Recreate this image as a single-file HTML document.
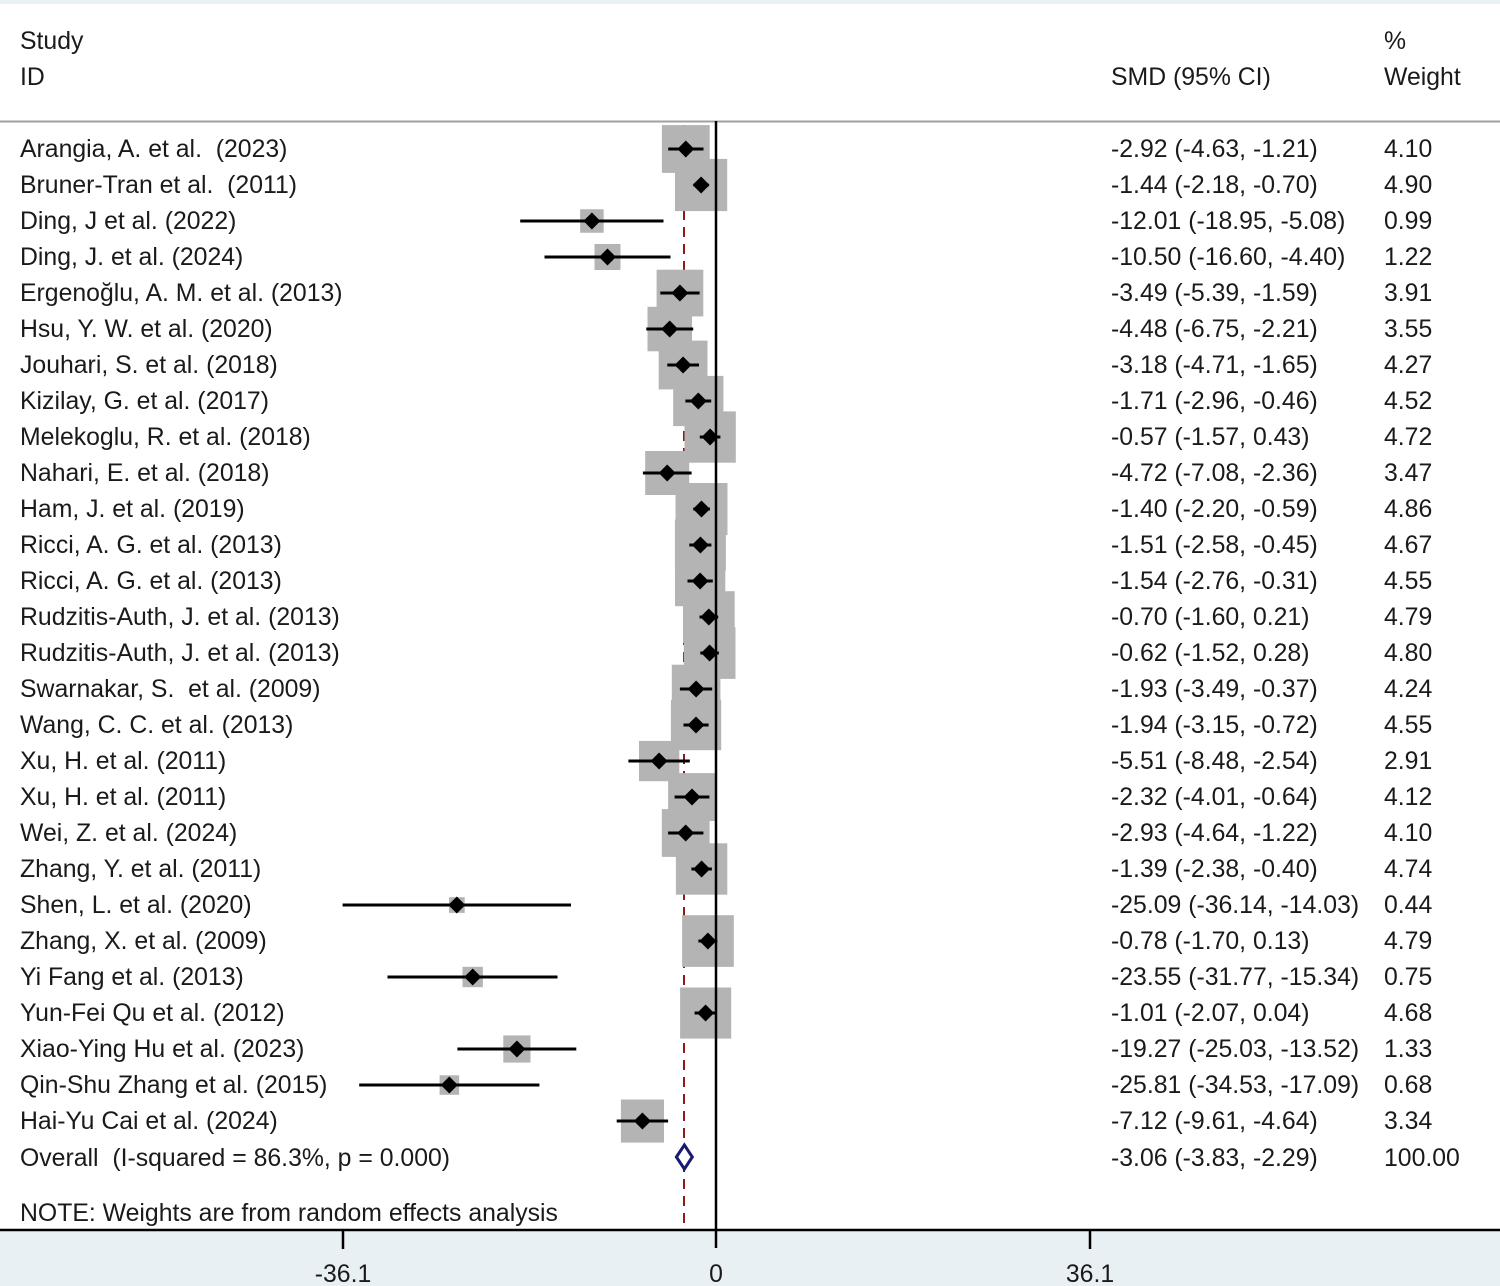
<!DOCTYPE html>
<html><head><meta charset="utf-8"><style>
html,body{margin:0;padding:0;background:#fff}
svg{display:block}
text{font-family:"Liberation Sans",Arial,sans-serif;font-size:24.8px;fill:#1a1a1a;white-space:pre}
</style></head><body>
<svg width="1500" height="1286" viewBox="0 0 1500 1286" xmlns="http://www.w3.org/2000/svg" xml:space="preserve">
<rect x="0" y="0" width="1500" height="1286" fill="#fff"/>
<rect x="0" y="0" width="1500" height="4" fill="#e8f0f3"/>
<rect x="0" y="1230" width="1500" height="56" fill="#e8f0f3"/>
<line x1="0" y1="121.5" x2="1500" y2="121.5" stroke="#a0a0a0" stroke-width="2"/>
<text x="20" y="49">Study</text><text x="20" y="85">ID</text>
<text x="1111" y="85">SMD (95% CI)</text>
<text x="1384" y="49">%</text><text x="1384" y="85">Weight</text>
<line x1="684" y1="125" x2="684" y2="1230" stroke="#8b1a1a" stroke-width="2" stroke-dasharray="10,7"/>
<g fill="#b4b4b4">
<g transform="translate(685.8,149)"><rect x="-23.9" y="-23.9" width="47.8" height="47.8"/></g>
<g transform="translate(701.1,185)"><rect x="-26.1" y="-26.1" width="52.2" height="52.2"/></g>
<g transform="translate(591.9,221)"><rect x="-11.75" y="-11.75" width="23.5" height="23.5"/></g>
<g transform="translate(607.5,257)"><rect x="-13" y="-13" width="26" height="26"/></g>
<g transform="translate(679.9,293)"><rect x="-23.3" y="-23.3" width="46.7" height="46.7"/></g>
<g transform="translate(669.7,329)"><rect x="-22.2" y="-22.2" width="44.5" height="44.5"/></g>
<g transform="translate(683.1,365)"><rect x="-24.4" y="-24.4" width="48.8" height="48.8"/></g>
<g transform="translate(698.3,401)"><rect x="-25.1" y="-25.1" width="50.2" height="50.2"/></g>
<g transform="translate(710.1,437)"><rect x="-25.6" y="-25.6" width="51.3" height="51.3"/></g>
<g transform="translate(667.2,473)"><rect x="-22" y="-22" width="44" height="44"/></g>
<g transform="translate(701.5,509)"><rect x="-26" y="-26" width="52" height="52"/></g>
<g transform="translate(700.4,545)"><rect x="-25.5" y="-25.5" width="51" height="51"/></g>
<g transform="translate(700.1,581)"><rect x="-25.1" y="-25.1" width="50.3" height="50.3"/></g>
<g transform="translate(708.8,617)"><rect x="-25.8" y="-25.8" width="51.7" height="51.7"/></g>
<g transform="translate(709.6,653)"><rect x="-25.8" y="-25.8" width="51.7" height="51.7"/></g>
<g transform="translate(696.1,689)"><rect x="-24.3" y="-24.3" width="48.6" height="48.6"/></g>
<g transform="translate(696.0,725)"><rect x="-25.1" y="-25.1" width="50.3" height="50.3"/></g>
<g transform="translate(659.1,761)"><rect x="-20.1" y="-20.1" width="40.3" height="40.3"/></g>
<g transform="translate(692.0,797)"><rect x="-23.9" y="-23.9" width="47.9" height="47.9"/></g>
<g transform="translate(685.7,833)"><rect x="-23.9" y="-23.9" width="47.8" height="47.8"/></g>
<g transform="translate(701.6,869)"><rect x="-25.7" y="-25.7" width="51.4" height="51.4"/></g>
<g transform="translate(456.8,905)"><rect x="-7.8" y="-7.8" width="15.7" height="15.7"/></g>
<g transform="translate(707.9,941)"><rect x="-25.8" y="-25.8" width="51.7" height="51.7"/></g>
<g transform="translate(472.7,977)"><rect x="-10.2" y="-10.2" width="20.4" height="20.4"/></g>
<g transform="translate(705.6,1013)"><rect x="-25.5" y="-25.5" width="51.1" height="51.1"/></g>
<g transform="translate(516.9,1049)"><rect x="-13.6" y="-13.6" width="27.2" height="27.2"/></g>
<g transform="translate(449.3,1085)"><rect x="-9.7" y="-9.7" width="19.5" height="19.5"/></g>
<g transform="translate(642.4,1121)"><rect x="-21.5" y="-21.5" width="43.1" height="43.1"/></g>
</g>
<line x1="716" y1="121" x2="716" y2="1248" stroke="#000" stroke-width="2.5"/>
<g stroke="#000" stroke-width="3">
<line x1="668.2" y1="149" x2="703.5" y2="149"/>
<line x1="693.5" y1="185" x2="708.8" y2="185"/>
<line x1="520.2" y1="221" x2="663.5" y2="221"/>
<line x1="544.5" y1="257" x2="670.5" y2="257"/>
<line x1="660.3" y1="293" x2="699.6" y2="293"/>
<line x1="646.3" y1="329" x2="693.2" y2="329"/>
<line x1="667.3" y1="365" x2="699.0" y2="365"/>
<line x1="685.4" y1="401" x2="711.2" y2="401"/>
<line x1="699.8" y1="437" x2="720.4" y2="437"/>
<line x1="642.9" y1="473" x2="691.6" y2="473"/>
<line x1="693.3" y1="509" x2="709.9" y2="509"/>
<line x1="689.3" y1="545" x2="711.4" y2="545"/>
<line x1="687.5" y1="581" x2="712.8" y2="581"/>
<line x1="699.5" y1="617" x2="718.2" y2="617"/>
<line x1="700.3" y1="653" x2="718.9" y2="653"/>
<line x1="679.9" y1="689" x2="712.2" y2="689"/>
<line x1="683.5" y1="725" x2="708.6" y2="725"/>
<line x1="628.4" y1="761" x2="689.8" y2="761"/>
<line x1="674.6" y1="797" x2="709.4" y2="797"/>
<line x1="668.1" y1="833" x2="703.4" y2="833"/>
<line x1="691.4" y1="869" x2="711.9" y2="869"/>
<line x1="342.6" y1="905" x2="571.0" y2="905"/>
<line x1="698.4" y1="941" x2="717.3" y2="941"/>
<line x1="387.5" y1="977" x2="557.5" y2="977"/>
<line x1="694.6" y1="1013" x2="716.4" y2="1013"/>
<line x1="457.4" y1="1049" x2="576.3" y2="1049"/>
<line x1="359.2" y1="1085" x2="539.4" y2="1085"/>
<line x1="616.7" y1="1121" x2="668.1" y2="1121"/>
</g>
<defs><path id="dm" d="M0,-8.5 L8.5,0 L0,8.5 L-8.5,0 Z" fill="#000"/></defs>
<use href="#dm" x="685.8" y="149"/><use href="#dm" x="701.1" y="185"/><use href="#dm" x="591.9" y="221"/>
<use href="#dm" x="607.5" y="257"/><use href="#dm" x="679.9" y="293"/><use href="#dm" x="669.7" y="329"/>
<use href="#dm" x="683.1" y="365"/><use href="#dm" x="698.3" y="401"/><use href="#dm" x="710.1" y="437"/>
<use href="#dm" x="667.2" y="473"/><use href="#dm" x="701.5" y="509"/><use href="#dm" x="700.4" y="545"/>
<use href="#dm" x="700.1" y="581"/><use href="#dm" x="708.8" y="617"/><use href="#dm" x="709.6" y="653"/>
<use href="#dm" x="696.1" y="689"/><use href="#dm" x="696.0" y="725"/><use href="#dm" x="659.1" y="761"/>
<use href="#dm" x="692.0" y="797"/><use href="#dm" x="685.7" y="833"/><use href="#dm" x="701.6" y="869"/>
<use href="#dm" x="456.8" y="905"/><use href="#dm" x="707.9" y="941"/><use href="#dm" x="472.7" y="977"/>
<use href="#dm" x="705.6" y="1013"/><use href="#dm" x="516.9" y="1049"/><use href="#dm" x="449.3" y="1085"/>
<use href="#dm" x="642.4" y="1121"/>
<path d="M676.4,1157 L684.4,1145 L692.3,1157 L684.4,1169 Z" fill="#fff" stroke="#1a1a6e" stroke-width="3"/>
<line x1="0" y1="1230" x2="1500" y2="1230" stroke="#000" stroke-width="2.5"/>
<g stroke="#000" stroke-width="2.5">
<line x1="343" y1="1230" x2="343" y2="1249"/>
<line x1="1090" y1="1230" x2="1090" y2="1249"/>
</g>
<g text-anchor="middle">
<text x="343" y="1282">-36.1</text><text x="716" y="1282">0</text><text x="1090" y="1282">36.1</text>
</g>
<g>
<text x="20" y="157">Arangia, A. et al.  (2023)</text>
<text x="20" y="193">Bruner-Tran et al.  (2011)</text>
<text x="20" y="229">Ding, J et al. (2022)</text>
<text x="20" y="265">Ding, J. et al. (2024)</text>
<text x="20" y="301">Ergenoğlu, A. M. et al. (2013)</text>
<text x="20" y="337">Hsu, Y. W. et al. (2020)</text>
<text x="20" y="373">Jouhari, S. et al. (2018)</text>
<text x="20" y="409">Kizilay, G. et al. (2017)</text>
<text x="20" y="445">Melekoglu, R. et al. (2018)</text>
<text x="20" y="481">Nahari, E. et al. (2018)</text>
<text x="20" y="517">Ham, J. et al. (2019)</text>
<text x="20" y="553">Ricci, A. G. et al. (2013)</text>
<text x="20" y="589">Ricci, A. G. et al. (2013)</text>
<text x="20" y="625">Rudzitis-Auth, J. et al. (2013)</text>
<text x="20" y="661">Rudzitis-Auth, J. et al. (2013)</text>
<text x="20" y="697">Swarnakar, S.  et al. (2009)</text>
<text x="20" y="733">Wang, C. C. et al. (2013)</text>
<text x="20" y="769">Xu, H. et al. (2011)</text>
<text x="20" y="805">Xu, H. et al. (2011)</text>
<text x="20" y="841">Wei, Z. et al. (2024)</text>
<text x="20" y="877">Zhang, Y. et al. (2011)</text>
<text x="20" y="913">Shen, L. et al. (2020)</text>
<text x="20" y="949">Zhang, X. et al. (2009)</text>
<text x="20" y="985">Yi Fang et al. (2013)</text>
<text x="20" y="1021">Yun-Fei Qu et al. (2012)</text>
<text x="20" y="1057">Xiao-Ying Hu et al. (2023)</text>
<text x="20" y="1093">Qin-Shu Zhang et al. (2015)</text>
<text x="20" y="1129">Hai-Yu Cai et al. (2024)</text>
<text x="20" y="1166">Overall  (I-squared = 86.3%, p = 0.000)</text>
<text x="20" y="1221">NOTE: Weights are from random effects analysis</text>
</g>
<g>
<text x="1111" y="157">-2.92 (-4.63, -1.21)</text>
<text x="1111" y="193">-1.44 (-2.18, -0.70)</text>
<text x="1111" y="229">-12.01 (-18.95, -5.08)</text>
<text x="1111" y="265">-10.50 (-16.60, -4.40)</text>
<text x="1111" y="301">-3.49 (-5.39, -1.59)</text>
<text x="1111" y="337">-4.48 (-6.75, -2.21)</text>
<text x="1111" y="373">-3.18 (-4.71, -1.65)</text>
<text x="1111" y="409">-1.71 (-2.96, -0.46)</text>
<text x="1111" y="445">-0.57 (-1.57, 0.43)</text>
<text x="1111" y="481">-4.72 (-7.08, -2.36)</text>
<text x="1111" y="517">-1.40 (-2.20, -0.59)</text>
<text x="1111" y="553">-1.51 (-2.58, -0.45)</text>
<text x="1111" y="589">-1.54 (-2.76, -0.31)</text>
<text x="1111" y="625">-0.70 (-1.60, 0.21)</text>
<text x="1111" y="661">-0.62 (-1.52, 0.28)</text>
<text x="1111" y="697">-1.93 (-3.49, -0.37)</text>
<text x="1111" y="733">-1.94 (-3.15, -0.72)</text>
<text x="1111" y="769">-5.51 (-8.48, -2.54)</text>
<text x="1111" y="805">-2.32 (-4.01, -0.64)</text>
<text x="1111" y="841">-2.93 (-4.64, -1.22)</text>
<text x="1111" y="877">-1.39 (-2.38, -0.40)</text>
<text x="1111" y="913">-25.09 (-36.14, -14.03)</text>
<text x="1111" y="949">-0.78 (-1.70, 0.13)</text>
<text x="1111" y="985">-23.55 (-31.77, -15.34)</text>
<text x="1111" y="1021">-1.01 (-2.07, 0.04)</text>
<text x="1111" y="1057">-19.27 (-25.03, -13.52)</text>
<text x="1111" y="1093">-25.81 (-34.53, -17.09)</text>
<text x="1111" y="1129">-7.12 (-9.61, -4.64)</text>
<text x="1111" y="1166">-3.06 (-3.83, -2.29)</text>
</g>
<g>
<text x="1384" y="157">4.10</text><text x="1384" y="193">4.90</text><text x="1384" y="229">0.99</text>
<text x="1384" y="265">1.22</text><text x="1384" y="301">3.91</text><text x="1384" y="337">3.55</text>
<text x="1384" y="373">4.27</text><text x="1384" y="409">4.52</text><text x="1384" y="445">4.72</text>
<text x="1384" y="481">3.47</text><text x="1384" y="517">4.86</text><text x="1384" y="553">4.67</text>
<text x="1384" y="589">4.55</text><text x="1384" y="625">4.79</text><text x="1384" y="661">4.80</text>
<text x="1384" y="697">4.24</text><text x="1384" y="733">4.55</text><text x="1384" y="769">2.91</text>
<text x="1384" y="805">4.12</text><text x="1384" y="841">4.10</text><text x="1384" y="877">4.74</text>
<text x="1384" y="913">0.44</text><text x="1384" y="949">4.79</text><text x="1384" y="985">0.75</text>
<text x="1384" y="1021">4.68</text><text x="1384" y="1057">1.33</text><text x="1384" y="1093">0.68</text>
<text x="1384" y="1129">3.34</text><text x="1384" y="1166">100.00</text>
</g>
</svg>
</body></html>
